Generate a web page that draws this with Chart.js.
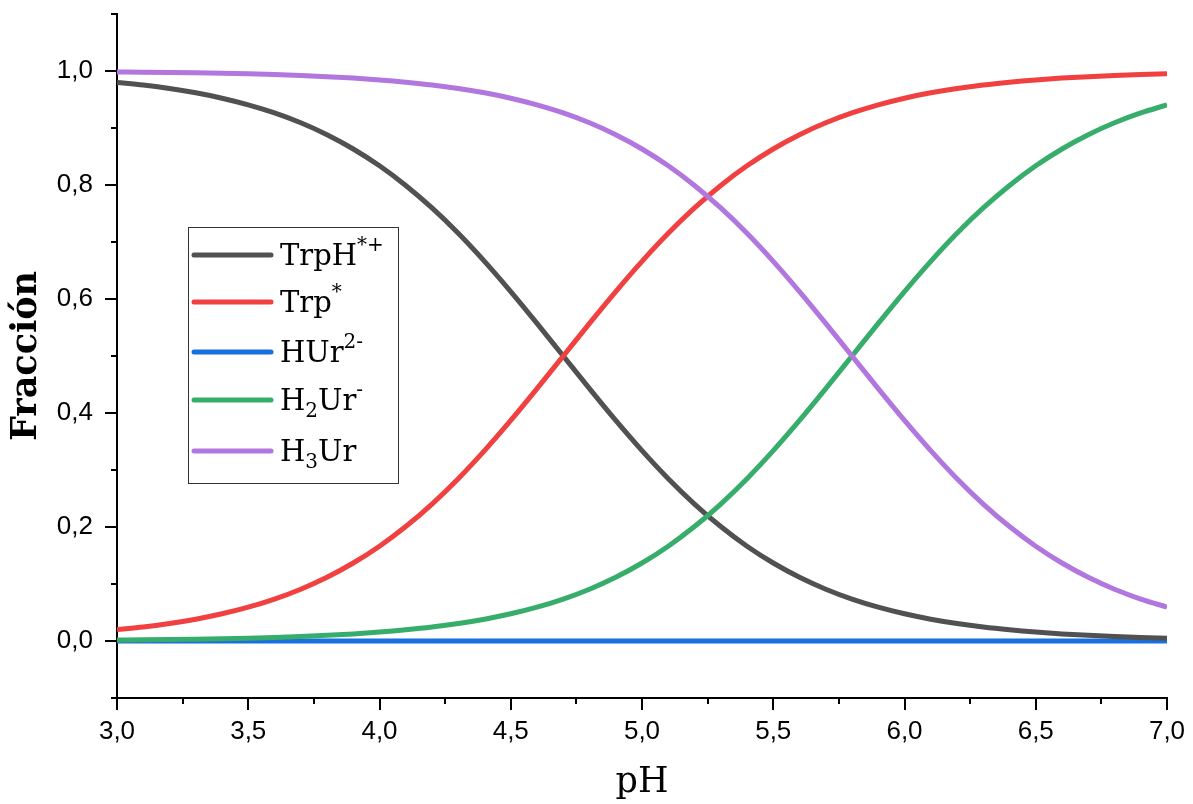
<!DOCTYPE html>
<html>
<head>
<meta charset="utf-8">
<script src="https://cdn.jsdelivr.net/npm/chart.js@4/dist/chart.umd.min.js"></script>
<style>
  html, body { margin: 0; padding: 0; background: #fff; }
  #wrap { width: 1193px; height: 804px; }
</style>
</head>
<body>
<div id="wrap"><canvas id="chart" width="1193" height="804"></canvas></div>
<script>
(function () {
  'use strict';

  // ============================================================
  //  Data (pH step 0.1)
  // ============================================================
  var phValues = [3.0, 3.1, 3.2, 3.3, 3.4, 3.5, 3.6, 3.7, 3.8, 3.9,
    4.0, 4.1, 4.2, 4.3, 4.4, 4.5, 4.6, 4.7, 4.8, 4.9,
    5.0, 5.1, 5.2, 5.3, 5.4, 5.5, 5.6, 5.7, 5.8, 5.9,
    6.0, 6.1, 6.2, 6.3, 6.4, 6.5, 6.6, 6.7, 6.8, 6.9, 7.0];

  var trpHPlus = [0.9800, 0.9755, 0.9693, 0.9617, 0.9523, 0.9406, 0.9264, 0.9091, 0.8882, 0.8632,
    0.8337, 0.7992, 0.7597, 0.7153, 0.6661, 0.6131, 0.5573, 0.5000, 0.4427, 0.3869,
    0.3339, 0.2847, 0.2403, 0.2008, 0.1663, 0.1368, 0.1118, 0.0909, 0.0736, 0.0594,
    0.0477, 0.0383, 0.0307, 0.0245, 0.0196, 0.0156, 0.0124, 0.0099, 0.0079, 0.0063, 0.0050];

  var trpStar = [0.0200, 0.0245, 0.0307, 0.0383, 0.0477, 0.0594, 0.0736, 0.0909, 0.1118, 0.1368,
    0.1663, 0.2008, 0.2403, 0.2847, 0.3339, 0.3869, 0.4427, 0.5000, 0.5573, 0.6131,
    0.6661, 0.7153, 0.7597, 0.7992, 0.8337, 0.8632, 0.8882, 0.9091, 0.9264, 0.9406,
    0.9523, 0.9617, 0.9693, 0.9755, 0.9804, 0.9844, 0.9876, 0.9901, 0.9921, 0.9937, 0.9950];

  var hur2 = [0, 0, 0, 0, 0, 0, 0, 0, 0, 0,
    0, 0, 0, 0, 0, 0, 0, 0, 0, 0,
    0, 0, 0, 0, 0, 0, 0, 0, 0, 0,
    0, 0, 0, 0, 0, 0, 0, 0, 0, 0, 0];

  var h2ur = [0.0016, 0.0020, 0.0025, 0.0032, 0.0040, 0.0050, 0.0063, 0.0079, 0.0099, 0.0124,
    0.0156, 0.0196, 0.0245, 0.0307, 0.0383, 0.0477, 0.0594, 0.0736, 0.0909, 0.1118,
    0.1368, 0.1663, 0.2008, 0.2403, 0.2847, 0.3339, 0.3869, 0.4427, 0.5000, 0.5573,
    0.6131, 0.6661, 0.7153, 0.7597, 0.7992, 0.8337, 0.8632, 0.8882, 0.9091, 0.9264, 0.9406];

  var h3ur = [0.9984, 0.9980, 0.9975, 0.9968, 0.9960, 0.9950, 0.9937, 0.9921, 0.9901, 0.9876,
    0.9844, 0.9804, 0.9755, 0.9693, 0.9617, 0.9523, 0.9406, 0.9264, 0.9091, 0.8882,
    0.8632, 0.8337, 0.7992, 0.7597, 0.7153, 0.6661, 0.6131, 0.5573, 0.5000, 0.4427,
    0.3869, 0.3339, 0.2847, 0.2403, 0.2008, 0.1663, 0.1368, 0.1118, 0.0909, 0.0736, 0.0594];

  var xTicks = [3.0, 3.5, 4.0, 4.5, 5.0, 5.5, 6.0, 6.5, 7.0];
  var yTicks = [0.0, 0.2, 0.4, 0.6, 0.8, 1.0];

  // legend text pieces, with superscripts / subscripts
  var legendLabels = [
    [{ t: 'TrpH' }, { t: '*+', sup: true }],
    [{ t: 'Trp' }, { t: '*', sup: true }],
    [{ t: 'HUr' }, { t: '2-', sup: true }],
    [{ t: 'H' }, { t: '2', sub: true }, { t: 'Ur' }, { t: '-', sup: true }],
    [{ t: 'H' }, { t: '3', sub: true }, { t: 'Ur' }]
  ];

  var colors = ['#515151', '#F14040', '#1A6FDF', '#37AD6B', '#B177DE'];
  var seriesNames = ['TrpH*+', 'Trp*', 'HUr2-', 'H2Ur-', 'H3Ur'];
  var seriesValues = [trpHPlus, trpStar, hur2, h2ur, h3ur];
  // blue sits underneath, the rest stacked in plot order
  var drawOrder = [3, 2, 5, 1, 0];

  function toPoints(arr) {
    return arr.map(function (v, i) { return { x: phValues[i], y: v }; });
  }

  function fmt(v) { return v.toFixed(1).replace('.', ','); }

  // ============================================================
  //  Tick marks (major + minor) and legend box
  // ============================================================
  var tickPlugin = {
    id: 'ticks',
    afterDraw: function (chart) {
      var ctx = chart.ctx;
      var xs = chart.scales.x, ys = chart.scales.y;
      var area = chart.chartArea;
      ctx.save();
      ctx.strokeStyle = '#000';
      ctx.lineWidth = 2;
      ctx.beginPath();
      for (var k = 0; k <= 16; k++) {
        var px = Math.round(xs.getPixelForValue(3 + k * 0.25));
        ctx.moveTo(px, area.bottom);
        ctx.lineTo(px, area.bottom + (k % 2 === 0 ? 12 : 6));
      }
      for (var j = -1; j <= 11; j++) {
        var py = Math.round(ys.getPixelForValue(j / 10));
        var isMajor = j >= 0 && j <= 10 && j % 2 === 0;
        ctx.moveTo(area.left, py);
        ctx.lineTo(area.left - (isMajor ? 12 : 6), py);
      }
      ctx.stroke();
      ctx.restore();
    }
  };

  var legendPlugin = {
    id: 'richLegend',
    afterDraw: function (chart) {
      var ctx = chart.ctx;
      var area = chart.chartArea;
      var bx = area.left + 71, by = area.top + 213, bw = 210, bh = 256;
      ctx.save();
      ctx.fillStyle = '#fff';
      ctx.fillRect(bx, by, bw, bh);
      ctx.strokeStyle = '#333';
      ctx.lineWidth = 1;
      ctx.strokeRect(bx + 0.5, by + 0.5, bw, bh);
      var rowY = [28, 75, 125, 173, 224];
      legendLabels.forEach(function (parts, i) {
        var y = by + rowY[i];
        ctx.strokeStyle = colors[i];
        ctx.lineWidth = 5;
        ctx.lineCap = 'round';
        ctx.beginPath();
        ctx.moveTo(bx + 6, y);
        ctx.lineTo(bx + 83, y);
        ctx.stroke();
        var tx = bx + 92;
        ctx.fillStyle = '#000';
        ctx.textBaseline = 'alphabetic';
        parts.forEach(function (p) {
          var size = (p.sup || p.sub) ? 20 : 29;
          var dy = p.sup ? -14 : (p.sub ? 7 : 0);
          ctx.font = '500 ' + size + 'px "DejaVu Serif"';
          ctx.fillText(p.t, tx, y + 10 + dy);
          tx += ctx.measureText(p.t).width;
        });
      });
      ctx.restore();
    }
  };

  // ============================================================
  //  Chart
  // ============================================================
  var datasets = seriesValues.map(function (vals, i) {
    return {
      label: seriesNames[i],
      data: toPoints(vals),
      borderColor: colors[i],
      backgroundColor: colors[i],
      borderWidth: 5,
      pointRadius: 0,
      cubicInterpolationMode: 'monotone',
      fill: false,
      order: drawOrder[i]
    };
  });

  new Chart(document.getElementById('chart').getContext('2d'), {
    type: 'line',
    data: { datasets: datasets },
    options: {
      responsive: false,
      animation: false,
      layout: { padding: { top: 14, right: 26, left: 0, bottom: 0 } },
      plugins: { legend: { display: false }, tooltip: { enabled: false } },
      scales: {
        x: {
          type: 'linear', min: 3.0, max: 7.0,
          afterBuildTicks: function (s) { s.ticks = xTicks.map(function (v) { return { value: v }; }); },
          afterFit: function (s) { s.height = 106; s.paddingLeft = 0; s.paddingRight = 0; },
          border: { display: true, color: '#000', width: 2 },
          grid: { drawOnChartArea: false, drawTicks: false },
          ticks: {
            padding: 18, color: '#000', maxRotation: 0,
            font: { family: '"Liberation Sans", Arial', size: 26 },
            callback: function (v) { return fmt(v); }
          },
          title: {
            display: true, text: 'pH', color: '#000',
            font: { family: '"DejaVu Serif"', size: 35 },
            padding: { top: 0, bottom: 0 }
          }
        },
        y: {
          type: 'linear', min: -0.1, max: 1.1,
          afterBuildTicks: function (s) { s.ticks = yTicks.map(function (v) { return { value: v }; }); },
          afterFit: function (s) { s.width = 117; s.paddingTop = 0; s.paddingBottom = 0; },
          border: { display: true, color: '#000', width: 2 },
          grid: { drawOnChartArea: false, drawTicks: false },
          ticks: {
            padding: 24, color: '#000',
            font: { family: '"Liberation Sans", Arial', size: 26 },
            callback: function (v) { return fmt(v); }
          },
          title: {
            display: true, text: 'Fracción', color: '#000',
            font: { family: '"DejaVu Serif"', size: 35, weight: 'bold' },
            padding: { top: 6, bottom: 0 }
          }
        }
      }
    },
    plugins: [tickPlugin, legendPlugin]
  });
})();
</script>
</body>
</html>
